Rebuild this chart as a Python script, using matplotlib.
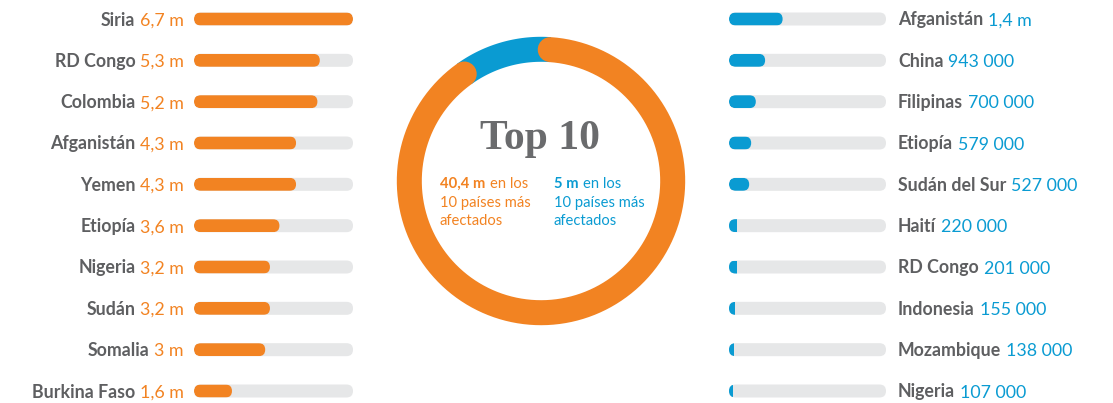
import numpy as np
import matplotlib
matplotlib.use("Agg")
import matplotlib.pyplot as plt
from matplotlib.patches import FancyBboxPatch, Rectangle

W, H = 1113, 403

ORANGE = "#f28322"
BLUE = "#0a9bd2"
TRACK = "#e6e7e8"
NAME = "#5e5f61"
TITLE = "#6a6b6d"

left_countries = ["Siria", "RD Congo", "Colombia", "Afganistán", "Yemen",
                  "Etiopía", "Nigeria", "Sudán", "Somalia", "Burkina Faso"]
left_values = [6.7, 5.3, 5.2, 4.3, 4.3, 3.6, 3.2, 3.2, 3.0, 1.6]
left_labels = ["6,7 m", "5,3 m", "5,2 m", "4,3 m", "4,3 m",
               "3,6 m", "3,2 m", "3,2 m", "3 m", "1,6 m"]

right_countries = ["Afganistán", "China", "Filipinas", "Etiopía", "Sudán del Sur",
                   "Haití", "RD Congo", "Indonesia", "Mozambique", "Nigeria"]
right_values = [1.4, 0.943, 0.7, 0.579, 0.527, 0.22, 0.201, 0.155, 0.138, 0.107]
right_labels = ["1,4 m", "943 000", "700 000", "579 000", "527 000",
                "220 000", "201 000", "155 000", "138 000", "107 000"]

totals = [40.4, 5.0]
total_labels = ["40,4 m", "5 m"]

plt.rcParams["font.family"] = ["Lato", "DejaVu Sans"]

fig = plt.figure(figsize=(W / 100, H / 100), dpi=100)
ax = fig.add_axes([0, 0, 1, 1])
ax.set_xlim(0, W)
ax.set_ylim(H, 0)
ax.axis("off")

rows = np.linspace(19, 391, len(left_values))
BAR_R = 6.5  # half bar height, px
FS = 12.8


def draw_bars(x0, width_px, vmax, values, color):
    """Rounded track + value bar, x in data units, y in px."""
    bx = fig.add_axes([x0 / W, 0, width_px / W, 1])
    bx.set_xlim(0, vmax)
    bx.set_ylim(H, 0)
    bx.axis("off")
    kx = vmax / width_px
    style = f"round,pad=0,rounding_size={BAR_R * kx}"
    for v, y in zip(values, rows):
        track = FancyBboxPatch((0, y - BAR_R), vmax, 2 * BAR_R, boxstyle=style,
                               mutation_aspect=1 / kx, fc=TRACK, ec="none")
        bx.add_patch(track)
        if v >= 2 * BAR_R * kx:
            bar = FancyBboxPatch((0, y - BAR_R), v, 2 * BAR_R, boxstyle=style,
                                 mutation_aspect=1 / kx, fc=color, ec="none")
        else:
            bar = Rectangle((0, y - BAR_R), v, 2 * BAR_R, fc=color, ec="none")
        bx.add_patch(bar)
        bar.set_clip_path(track)


draw_bars(194, 159, max(left_values), left_values, ORANGE)
draw_bars(729, 157, 4.1, right_values, BLUE)

# left labels: name + value, right aligned
for name, lab, y in zip(left_countries, left_labels, rows):
    t = ax.text(184, y + 6.5, lab, color=ORANGE, fontsize=FS, ha="right", va="baseline")
    ax.annotate(name, xy=(0, 0), xycoords=t, xytext=(-3.5, 0), textcoords="offset points",
                ha="right", va="bottom", color=NAME, fontsize=FS, fontweight="bold")

# right labels: name + value, left aligned
for name, lab, y in zip(right_countries, right_labels, rows):
    t = ax.text(898, y + 6.5, name, color=NAME, fontsize=FS, fontweight="bold",
                ha="left", va="baseline")
    ax.annotate(lab, xy=(1, 0), xycoords=t, xytext=(3.5, 0), textcoords="offset points",
                ha="left", va="bottom", color=BLUE, fontsize=FS)

# donut
cx, cy, R = 541, 181, 131.7
share = np.array(totals) / sum(totals)
start = 86.0
th_o = np.radians(np.linspace(start, start - 360 * share[0], 400))
th_b = np.radians(np.linspace(start, start + 360 * share[1], 60))
ax.plot(cx + R * np.cos(th_b), cy - R * np.sin(th_b), color=BLUE, lw=18,
        solid_capstyle="butt")
ax.plot(cx + R * np.cos(th_o), cy - R * np.sin(th_o), color=ORANGE, lw=18,
        solid_capstyle="round")

ax.text(540, 149, "Top 10", family=["Liberation Serif", "DejaVu Serif"], fontsize=30,
        fontweight="bold", color=TITLE, ha="center", va="baseline")

for x, lab, col in zip([440, 554], total_labels, [ORANGE, BLUE]):
    t = ax.text(x, 188, lab, color=col, fontsize=10.6, fontweight="bold",
                ha="left", va="baseline")
    ax.annotate("en los", xy=(1, 0), xycoords=t, xytext=(3, 0), textcoords="offset points",
                ha="left", va="bottom", color=col, fontsize=10.6)
    ax.text(x, 206.5, "10 países más", color=col, fontsize=10.6, ha="left", va="baseline")
    ax.text(x, 225, "afectados", color=col, fontsize=10.6, ha="left", va="baseline")

fig.savefig("out.png", dpi=100)
